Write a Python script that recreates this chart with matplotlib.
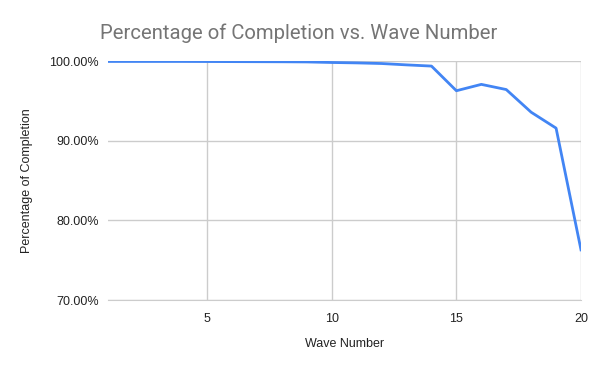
import matplotlib
matplotlib.use("Agg")
import matplotlib.pyplot as plt
from matplotlib.ticker import FuncFormatter

waves = list(range(1, 21))
completion = [99.98, 99.98, 99.98, 99.98, 99.97, 99.96, 99.95, 99.94, 99.92, 99.85,
              99.8, 99.72, 99.55, 99.4, 96.3, 97.1, 96.45, 93.6, 91.6, 76.3]
xticks = [5, 10, 15, 20]
yticks = [70, 80, 90, 100]

plt.rcParams['font.family'] = ['Liberation Sans', 'DejaVu Sans']

fig = plt.figure(figsize=(6, 3.71), dpi=100)
ax = fig.add_axes([107.5/600, 1-300/371, (581-107.5)/600, (300-61.3)/371])
ax.plot(waves, completion, color='#4285F4', lw=2, solid_joinstyle='round')
ax.set_xlim(1, 20)
ax.set_ylim(70, 100)
ax.set_xticks(xticks)
ax.set_yticks(yticks)
ax.yaxis.set_major_formatter(FuncFormatter(lambda v, p: f"{v:.2f}%"))
ax.grid(True, color='#cccccc', lw=1)
ax.set_axisbelow(True)
for s in ['left', 'top', 'right']:
    ax.spines[s].set_visible(False)
ax.spines['bottom'].set_color('#cccccc')
ax.tick_params(length=0, labelsize=9, colors='#222222', pad=6)
ax.tick_params(axis='x', pad=9)
ax.set_xlabel('Wave Number', fontsize=9, color='#222222', labelpad=10)
ax.set_ylabel('Percentage of Completion', fontsize=9, color='#222222', labelpad=12)
fig.text(100/600, 1-33/371, 'Percentage of Completion vs. Wave Number', fontsize=14.6,
         color='#757575', ha='left', va='center', family=['Roboto', 'DejaVu Sans'])
fig.savefig('out.png', dpi=100)
